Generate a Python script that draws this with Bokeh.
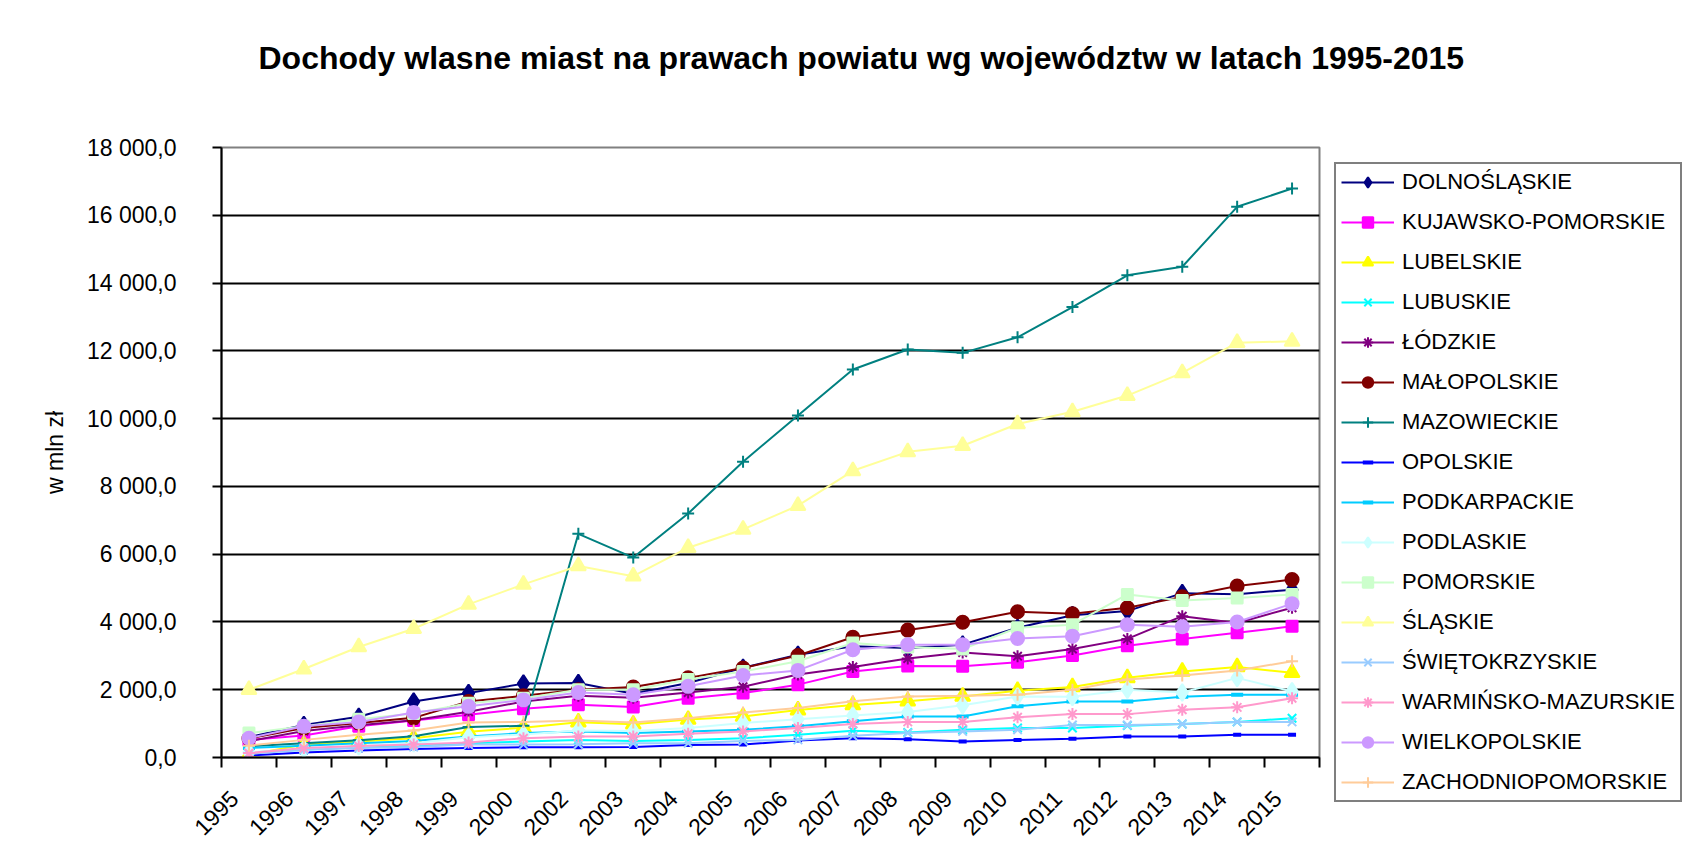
from bokeh.plotting import figure
from bokeh.models import Range1d, FixedTicker, Legend, LegendItem, Title, LinearAxis
from bokeh.embed import file_html
from bokeh.resources import INLINE
import math

years = ["1995", "1996", "1997", "1998", "1999", "2000", "2002", "2003", "2004", "2005",
         "2006", "2007", "2008", "2009", "2010", "2011", "2012", "2013", "2014", "2015"]

dolnoslaskie = [600, 960, 1200, 1650, 1900, 2180, 2200, 1880, 2200, 2650, 3030, 3280, 3230, 3330, 3830, 4200, 4320, 4850, 4820, 4950]
kujawsko_pomorskie = [520, 650, 920, 1090, 1260, 1440, 1560, 1490, 1750, 1900, 2150, 2540, 2700, 2690, 2810, 3010, 3300, 3500, 3680, 3870]
lubelskie = [80, 380, 470, 570, 760, 880, 1040, 980, 1120, 1210, 1400, 1550, 1660, 1800, 1970, 2080, 2350, 2540, 2670, 2500]
lubuskie = [150, 230, 300, 350, 420, 470, 520, 490, 520, 570, 670, 790, 740, 820, 870, 870, 940, 990, 1050, 1160]
lodzkie = [480, 780, 950, 1100, 1350, 1650, 1820, 1760, 1920, 2090, 2450, 2670, 2920, 3100, 2990, 3200, 3500, 4170, 3970, 4420]
malopolskie = [560, 870, 1020, 1170, 1650, 1820, 2000, 2080, 2350, 2640, 3010, 3550, 3760, 3990, 4300, 4240, 4420, 4740, 5060, 5250]
mazowieckie = [330, 420, 510, 630, 900, 935, 6600, 5900, 7200, 8730, 10090, 11450, 12040, 11940, 12400, 13290, 14230, 14480, 16250, 16790]
opolskie = [60, 150, 210, 250, 280, 300, 300, 310, 370, 380, 500, 570, 540, 470, 520, 550, 620, 620, 670, 670]
podkarpackie = [280, 350, 420, 490, 620, 720, 770, 720, 770, 820, 920, 1070, 1210, 1210, 1510, 1650, 1650, 1790, 1850, 1850]
podlaskie = [150, 250, 330, 420, 600, 680, 800, 780, 870, 1020, 1130, 1240, 1340, 1540, 1800, 1790, 2000, 1920, 2350, 1950]
pomorskie = [720, 920, 1130, 1300, 1600, 1750, 2000, 2000, 2300, 2540, 2840, 3380, 3260, 3200, 3830, 3920, 4810, 4630, 4710, 4810]
slaskie = [2000, 2610, 3260, 3800, 4520, 5110, 5650, 5350, 6190, 6730, 7430, 8460, 9020, 9200, 9840, 10200, 10680, 11350, 12240, 12280]
swietokrzyskie = [110, 230, 280, 310, 380, 380, 390, 420, 420, 490, 520, 640, 720, 770, 820, 960, 960, 990, 1050, 1050]
warminsko_mazurskie = [130, 280, 340, 380, 440, 570, 620, 620, 700, 770, 870, 990, 1050, 1050, 1190, 1280, 1280, 1410, 1480, 1750]
wielkopolskie = [570, 920, 1050, 1330, 1510, 1700, 1920, 1850, 2100, 2420, 2570, 3180, 3330, 3330, 3510, 3580, 3920, 3860, 4000, 4540]
zachodniopomorskie = [350, 520, 670, 800, 1030, 1050, 1090, 1030, 1160, 1330, 1460, 1660, 1800, 1820, 1850, 2000, 2300, 2420, 2570, 2840]

y_ticks = [0, 2000, 4000, 6000, 8000, 10000, 12000, 14000, 16000, 18000]
y_tick_labels = ["0,0", "2 000,0", "4 000,0", "6 000,0", "8 000,0", "10 000,0",
                 "12 000,0", "14 000,0", "16 000,0", "18 000,0"]

series = [
    ("DOLNOŚLĄSKIE", dolnoslaskie, "#000080", "diamond"),
    ("KUJAWSKO-POMORSKIE", kujawsko_pomorskie, "#FF00FF", "square"),
    ("LUBELSKIE", lubelskie, "#FFFF00", "triangle"),
    ("LUBUSKIE", lubuskie, "#00FFFF", "x"),
    ("ŁÓDZKIE", lodzkie, "#800080", "asterisk"),
    ("MAŁOPOLSKIE", malopolskie, "#800000", "circle"),
    ("MAZOWIECKIE", mazowieckie, "#008080", "cross"),
    ("OPOLSKIE", opolskie, "#0000FF", "dash"),
    ("PODKARPACKIE", podkarpackie, "#00CCFF", "dash"),
    ("PODLASKIE", podlaskie, "#CCFFFF", "diamond"),
    ("POMORSKIE", pomorskie, "#CCFFCC", "square"),
    ("ŚLĄSKIE", slaskie, "#FFFF99", "triangle"),
    ("ŚWIĘTOKRZYSKIE", swietokrzyskie, "#99CCFF", "x"),
    ("WARMIŃSKO-MAZURSKIE", warminsko_mazurskie, "#FF99CC", "asterisk"),
    ("WIELKOPOLSKIE", wielkopolskie, "#CC99FF", "circle"),
    ("ZACHODNIOPOMORSKIE", zachodniopomorskie, "#FFCC99", "cross"),
]

FONT = "Liberation Sans"
n = len(years)
xc = [i + 0.5 for i in range(n)]
label_pos = [c - 0.27 for c in xc]

p = figure(frame_width=1098, frame_height=610, output_backend="svg", toolbar_location=None,
           x_range=Range1d(0, n), y_range=Range1d(0, 18000), title_location=None,
           min_border_left=221, min_border_top=145, min_border_right=0,
           min_border_bottom=104)

# invisible spacer between the frame and the title
spacer = LinearAxis(ticker=FixedTicker(ticks=[]), axis_line_color=None,
                    major_tick_line_color=None, minor_tick_line_color=None,
                    major_tick_out=0, minor_tick_out=0, major_tick_in=0, minor_tick_in=0,
                    major_label_text_font_size="1px", major_label_standoff=0,
                    axis_label=".", axis_label_text_alpha=0,
                    axis_label_text_font_size="1px", axis_label_standoff=31)
p.add_layout(spacer, "above")

main_title = Title(text="Dochody wlasne miast na prawach powiatu wg województw w latach 1995-2015",
                   text_font=FONT, text_font_size="32px", text_font_style="bold",
                   text_color="black", align="left", offset=37, standoff=74)
p.add_layout(main_title, "above")

p.outline_line_color = "#808080"
p.outline_line_width = 2
p.background_fill_color = "white"
p.border_fill_color = "white"

# y axis
ya = p.yaxis[0]
ya.ticker = FixedTicker(ticks=y_ticks)
ya.major_label_overrides = {t: l for t, l in zip(y_ticks, y_tick_labels)}
ya.major_label_text_font = FONT
ya.major_label_text_font_size = "23px"
ya.major_label_text_color = "black"
ya.major_tick_out = 9
ya.major_tick_in = 0
ya.minor_tick_line_color = None
ya.major_label_standoff = 36
ya.axis_line_color = "black"
ya.axis_line_width = 2
ya.major_tick_line_color = "black"
ya.major_tick_line_width = 2
ya.axis_label = "w mln zł"
ya.axis_label_text_font = FONT
ya.axis_label_text_font_size = "23px"
ya.axis_label_text_font_style = "normal"
ya.axis_label_text_color = "black"
ya.axis_label_standoff = 16

# x axis
xa = p.below[0]
xa.ticker = FixedTicker(ticks=label_pos, minor_ticks=list(range(n + 1)))
xa.major_label_overrides = {c: y for c, y in zip(label_pos, years)}
xa.major_label_orientation = math.pi / 4
xa.major_label_text_font = FONT
xa.major_label_text_font_size = "23px"
xa.major_label_text_color = "black"
xa.major_tick_line_color = None
xa.major_tick_out = 0
xa.major_tick_in = 0
xa.minor_tick_out = 10
xa.minor_tick_in = 0
xa.minor_tick_line_color = "black"
xa.minor_tick_line_width = 2
xa.axis_line_color = "black"
xa.axis_line_width = 2
xa.major_label_standoff = 27

p.xgrid.grid_line_color = None
p.ygrid[0].ticker = FixedTicker(ticks=y_ticks[1:-1])
p.ygrid.grid_line_color = "black"
p.ygrid.grid_line_width = 2

items = []
for name, vals, color, marker in series:
    r_line = p.line(xc, vals, line_color=color, line_width=2)
    kw = dict(marker=marker, size=12, line_color=color, fill_color=color, line_width=2)
    if marker == "circle":
        kw["size"] = 13
    elif marker == "square":
        kw["size"] = 11
    elif marker == "diamond":
        kw["size"] = 17
    elif marker == "triangle":
        kw["size"] = 15
    elif marker in ("x", "asterisk", "cross"):
        kw["size"] = 12
    elif marker == "dash":
        kw["size"] = 8 if name == "OPOLSKIE" else 12
        kw["line_width"] = 4
    r_pts = p.scatter(xc, vals, **kw)
    items.append(LegendItem(label=name, renderers=[r_line, r_pts]))

legend = Legend(items=items, location="top_left")
legend.label_text_font = FONT
legend.label_text_font_size = "22px"
legend.label_text_color = "black"
legend.glyph_width = 53
legend.glyph_height = 26
legend.label_height = 26
legend.spacing = 14
legend.padding = 5
legend.margin = 15
legend.label_standoff = 8
legend.border_line_color = "black"
legend.border_line_width = 2
legend.background_fill_color = "white"
legend.background_fill_alpha = 1
p.add_layout(legend, "right")

open("out.html", "w").write(file_html(p, INLINE))
